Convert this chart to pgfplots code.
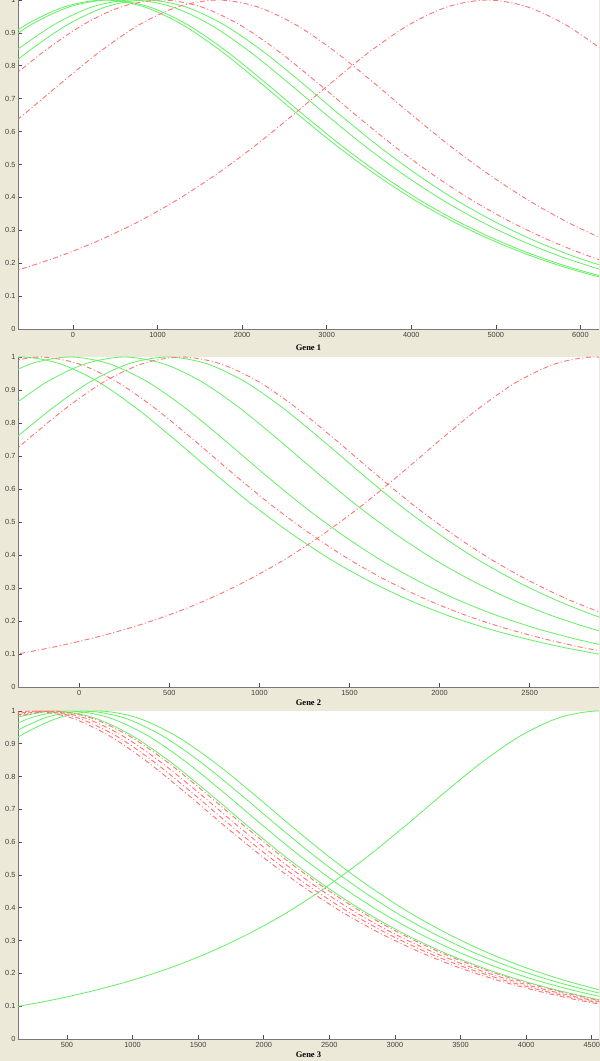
\documentclass[border=0pt]{standalone}
\usepackage{pgfplots}
\pgfplotsset{compat=1.18}
\usepackage{fontspec}
\setmainfont{Liberation Sans}
\newfontfamily\labelfont{Liberation Serif}
\definecolor{bg}{RGB}{236,233,216}
\definecolor{lgreen}{RGB}{100,240,100}
\definecolor{lred}{RGB}{255,115,115}
\definecolor{axgray}{RGB}{120,120,120}
\pgfplotsset{
  genestyle/.style={
    scale only axis, width=581pt, anchor=south west,
    axis x line*=bottom, axis y line*=left,
    axis line style={axgray, line width=0.9pt},
    ymin=0, ymax=1,
    ytick={0,0.1,0.2,0.3,0.4,0.5,0.6,0.7,0.8,0.9,1},
    yticklabels={0,0.1,0.2,0.3,0.4,0.5,0.6,0.7,0.8,0.9,1},
    tick align=inside, major tick length=4pt,
    tick style={black!70, line width=0.6pt},
    tick label style={font=\fontsize{7.4}{8.5}\selectfont, text=black!75},
    xticklabel style={yshift=0pt},
    yticklabel style={xshift=1pt},
    /pgf/number format/assume math mode=true,
    scaled x ticks=false, /pgf/number format/1000 sep={},
    axis background/.style={fill=white},
    xlabel style={font=\labelfont\bfseries\fontsize{8.5}{10}\selectfont, yshift=3pt},
    every axis plot/.append style={smooth, no marks, line width=0.8pt},
  },
  gr/.style={lgreen},
  rd/.style={lred, line width=0.9pt, dash pattern=on 5pt off 2.5pt on 1pt off 2.5pt},
}
\begin{document}
\begin{tikzpicture}
\path[use as bounding box, fill=bg] (0pt,0pt) rectangle (600pt,1061pt);
\clip (0pt,0pt) rectangle (600pt,1061pt);
% ---------------- Gene 1 ----------------
\begin{axis}[genestyle, at={(18pt,732pt)}, height=329pt,
  xmin=-650, xmax=6220, xtick={0,1000,2000,3000,4000,5000,6000}, xlabel={Gene 1},
  xlabel style={yshift=-3pt}]
\addplot[gr] coordinates {(-1016,.844)(-554,.925)(-92,.980)(370,1)(832,.980)(1294,.925)(1756,.844)(2218,.748)(2680,.648)(3142,.552)(3604,.465)(4066,.388)(4528,.322)(4990,.266)(5452,.219)(5914,.180)(6376,.148)};
\addplot[gr] coordinates {(-956,.844)(-494,.925)(-32,.980)(430,1)(892,.980)(1354,.925)(1816,.844)(2278,.748)(2740,.648)(3202,.552)(3664,.465)(4126,.388)(4588,.322)(5050,.266)(5512,.219)(5974,.180)(6436,.148)};
\addplot[gr] coordinates {(-686,.844)(-224,.925)(238,.980)(700,1)(1162,.980)(1624,.925)(2086,.844)(2548,.748)(3010,.648)(3472,.552)(3934,.465)(4396,.388)(4858,.322)(5320,.266)(5782,.219)(6244,.180)};
\addplot[gr] coordinates {(-988,.748)(-526,.844)(-64,.925)(398,.980)(860,1)(1322,.980)(1784,.925)(2246,.844)(2708,.748)(3170,.648)(3632,.552)(4094,.465)(4556,.388)(5018,.322)(5480,.266)(5942,.219)(6404,.180)};
\addplot[rd] coordinates {(-803,.748)(-341,.844)(121,.925)(583,.980)(1045,1)(1507,.980)(1969,.925)(2431,.844)(2893,.748)(3355,.648)(3817,.552)(4279,.465)(4741,.388)(5203,.322)(5665,.266)(6127,.219)(6589,.180)};
\addplot[rd] coordinates {(-1062,.552)(-600,.648)(-138,.748)(324,.844)(786,.925)(1248,.980)(1710,1)(2172,.980)(2634,.925)(3096,.844)(3558,.748)(4020,.648)(4482,.552)(4944,.465)(5406,.388)(5868,.322)(6330,.266)};
\addplot[rd] coordinates {(-1106,.148)(-644,.180)(-182,.219)(280,.266)(742,.322)(1204,.388)(1666,.465)(2128,.552)(2590,.648)(3052,.748)(3514,.844)(3976,.925)(4438,.980)(4900,1)(5362,.980)(5824,.925)(6286,.844)};
\end{axis}
% ---------------- Gene 2 ----------------
\begin{axis}[genestyle, at={(18pt,374pt)}, height=330pt,
  xmin=-340, xmax=2885, xtick={0,500,1000,1500,2000,2500}, xlabel={Gene 2}]
\addplot[gr] coordinates {(-538,.980)(-324,1)(-110,.980)(105,.925)(319,.844)(534,.748)(748,.648)(962,.552)(1177,.465)(1391,.388)(1606,.322)(1820,.266)(2034,.219)(2249,.180)(2463,.148)(2678,.121)(2892,.099)};
\addplot[gr] coordinates {(-480,.925)(-265,.980)(-51,1)(163,.980)(378,.925)(592,.844)(807,.748)(1021,.648)(1235,.552)(1450,.465)(1664,.388)(1879,.322)(2093,.266)(2307,.219)(2522,.180)(2736,.148)(2951,.121)};
\addplot[gr] coordinates {(-392,.844)(-178,.925)(37,.980)(251,1)(465,.980)(680,.925)(894,.844)(1109,.748)(1323,.648)(1537,.552)(1752,.465)(1966,.388)(2181,.322)(2395,.266)(2609,.219)(2824,.180)(3038,.148)};
\addplot[gr] coordinates {(-367,.748)(-152,.844)(62,.925)(277,.980)(491,1)(705,.980)(920,.925)(1134,.844)(1349,.748)(1563,.648)(1777,.552)(1992,.465)(2206,.388)(2421,.322)(2635,.266)(2849,.219)(3064,.180)};
\addplot[rd] coordinates {(-435,.980)(-221,1)(-7,.980)(208,.925)(422,.844)(637,.748)(851,.648)(1065,.552)(1280,.465)(1494,.388)(1709,.322)(1923,.266)(2137,.219)(2352,.180)(2566,.148)(2781,.121)(2995,.099)};
\addplot[rd] coordinates {(-505,.648)(-291,.748)(-76,.844)(138,.925)(353,.980)(567,1)(781,.980)(996,.925)(1210,.844)(1425,.748)(1639,.648)(1853,.552)(2068,.465)(2282,.388)(2497,.322)(2711,.266)(2925,.219)};
\addplot[rd] coordinates {(-570,.081)(-356,.099)(-142,.121)(73,.148)(287,.180)(502,.219)(716,.266)(930,.322)(1145,.388)(1359,.465)(1574,.552)(1788,.648)(2002,.748)(2217,.844)(2431,.925)(2646,.980)(2860,1)(3074,.980)};
\end{axis}
% ---------------- Gene 3 ----------------
\begin{axis}[genestyle, at={(18pt,22pt)}, height=328pt,
  xmin=127, xmax=4555, xtick={500,1000,1500,2000,2500,3000,3500,4000,4500}, xlabel={Gene 3}]
\addplot[gr] coordinates {(-176,.081)(119,.099)(414,.121)(710,.148)(1005,.180)(1301,.219)(1596,.266)(1891,.322)(2187,.388)(2482,.465)(2778,.552)(3073,.648)(3368,.748)(3664,.844)(3959,.925)(4255,.980)(4550,1)(4845,.980)};
\addplot[gr] coordinates {(110,.980)(405,1)(700,.980)(996,.925)(1291,.844)(1587,.748)(1882,.648)(2177,.552)(2473,.465)(2768,.388)(3064,.322)(3359,.266)(3654,.219)(3950,.180)(4245,.148)(4541,.121)(4836,.099)};
\addplot[gr] coordinates {(-67,.925)(229,.980)(524,1)(819,.980)(1115,.925)(1410,.844)(1706,.748)(2001,.648)(2296,.552)(2592,.465)(2887,.388)(3183,.322)(3478,.266)(3773,.219)(4069,.180)(4364,.148)(4660,.121)};
\addplot[gr] coordinates {(43,.925)(339,.980)(634,1)(929,.980)(1225,.925)(1520,.844)(1816,.748)(2111,.648)(2406,.552)(2702,.465)(2997,.388)(3293,.322)(3588,.266)(3883,.219)(4179,.180)(4474,.148)(4770,.121)};
\addplot[gr] coordinates {(-149,.844)(146,.925)(442,.980)(737,1)(1032,.980)(1328,.925)(1623,.844)(1919,.748)(2214,.648)(2509,.552)(2805,.465)(3100,.388)(3396,.322)(3691,.266)(3986,.219)(4282,.180)(4577,.148)};
\addplot[rd] coordinates {(-65,.980)(230,1)(525,.980)(821,.925)(1116,.844)(1412,.748)(1707,.648)(2002,.552)(2298,.465)(2593,.388)(2889,.322)(3184,.266)(3479,.219)(3775,.180)(4070,.148)(4366,.121)(4661,.099)};
\addplot[rd] coordinates {(-15,.980)(280,1)(575,.980)(871,.925)(1166,.844)(1462,.748)(1757,.648)(2052,.552)(2348,.465)(2643,.388)(2939,.322)(3234,.266)(3529,.219)(3825,.180)(4120,.148)(4416,.121)(4711,.099)};
\addplot[rd] coordinates {(35,.980)(330,1)(625,.980)(921,.925)(1216,.844)(1512,.748)(1807,.648)(2102,.552)(2398,.465)(2693,.388)(2989,.322)(3284,.266)(3579,.219)(3875,.180)(4170,.148)(4466,.121)(4761,.099)};
\addplot[rd] coordinates {(85,.980)(380,1)(675,.980)(971,.925)(1266,.844)(1562,.748)(1857,.648)(2152,.552)(2448,.465)(2743,.388)(3039,.322)(3334,.266)(3629,.219)(3925,.180)(4220,.148)(4516,.121)(4811,.099)};
\end{axis}
\end{tikzpicture}
\end{document}
